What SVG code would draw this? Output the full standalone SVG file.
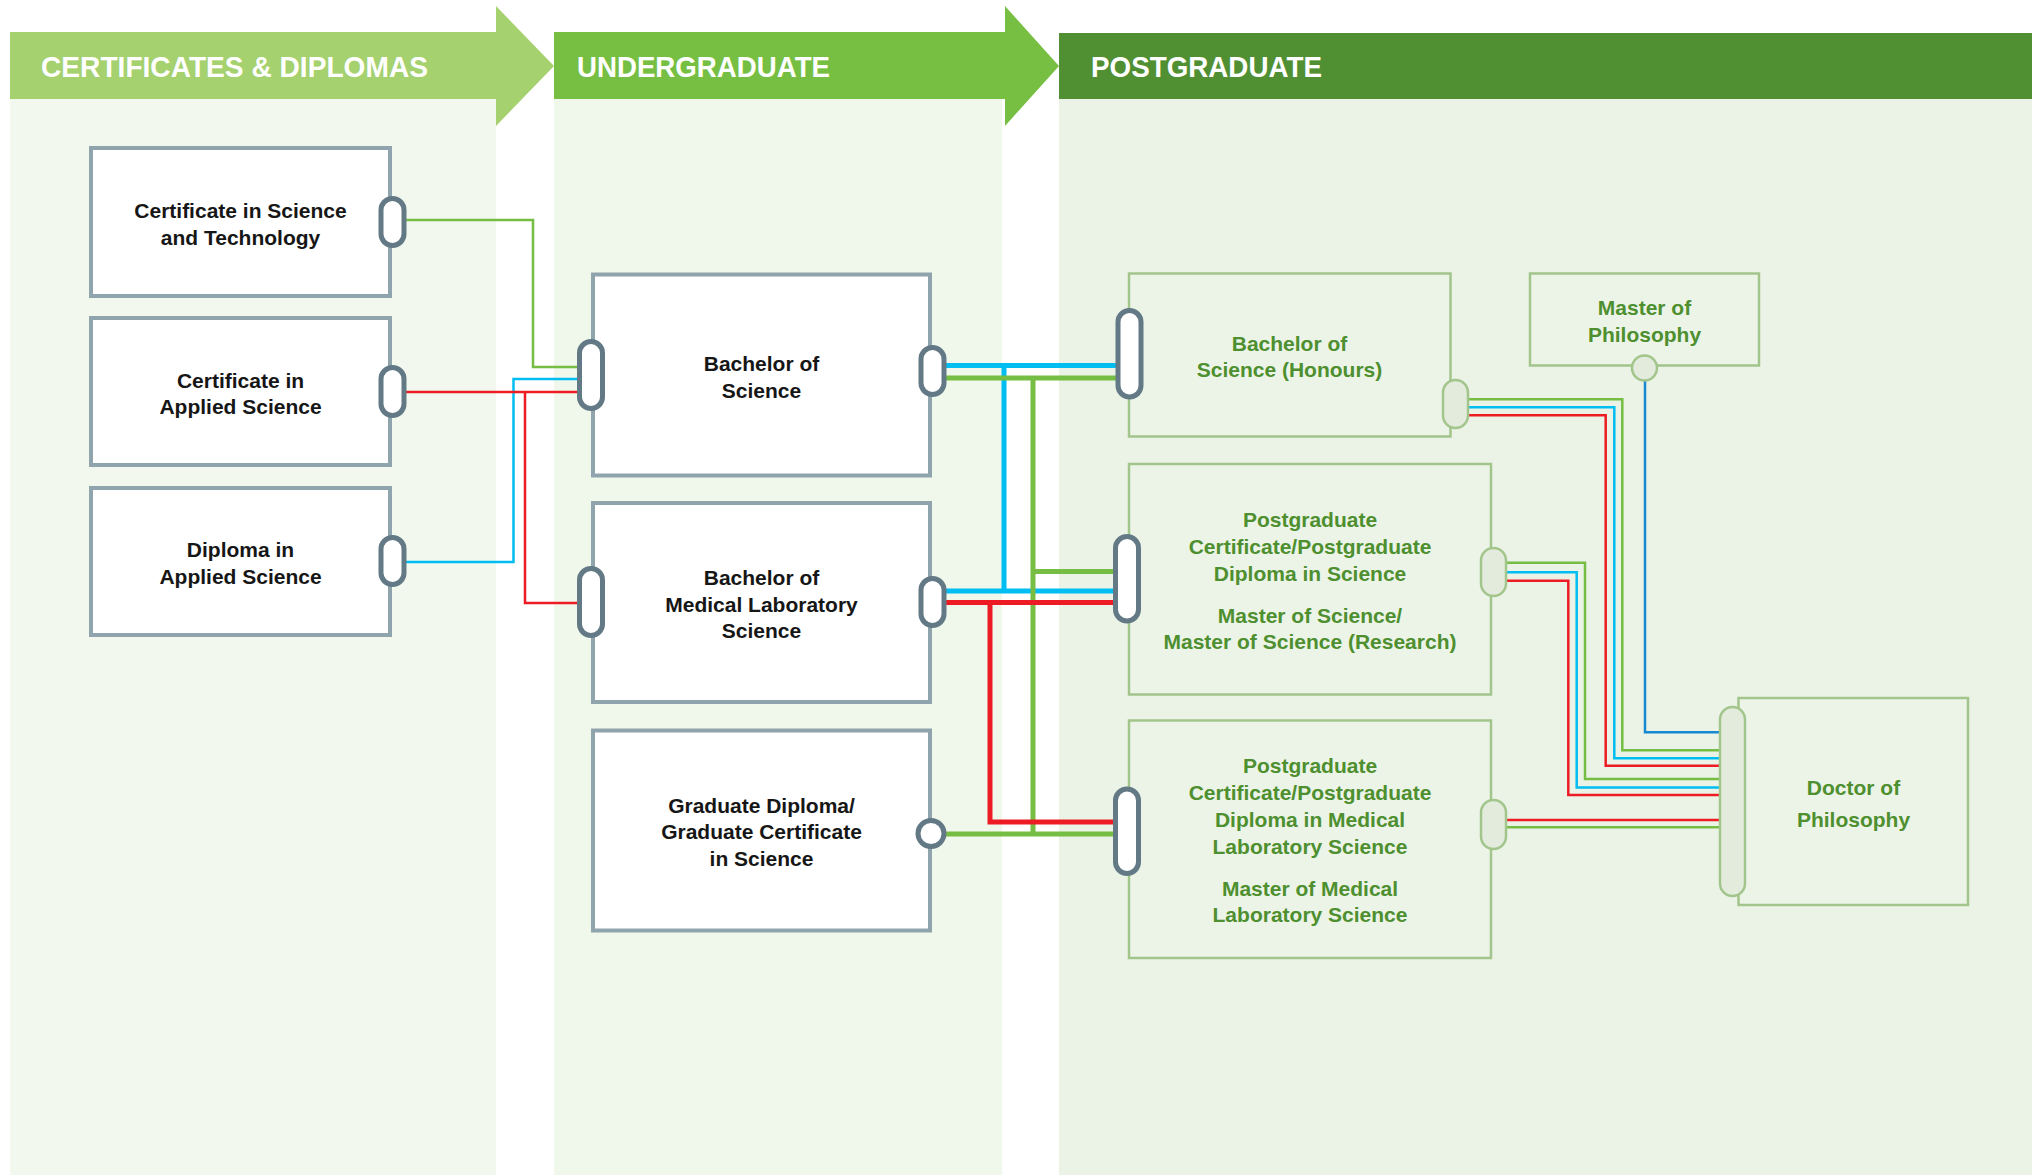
<svg xmlns="http://www.w3.org/2000/svg" width="2037" height="1175" viewBox="0 0 2037 1175">
<style>
.hdr{font-family:"Liberation Sans",Arial,sans-serif;font-weight:bold;font-size:30px;fill:#ffffff}
.t{font-family:"Liberation Sans",Arial,sans-serif;font-weight:bold;font-size:21px;fill:#161616;text-anchor:middle}
.g{font-family:"Liberation Sans",Arial,sans-serif;font-weight:bold;font-size:21px;fill:#4e8f2f;text-anchor:middle}
.box{fill:#ffffff;stroke:#8fa4ad;stroke-width:4}
.pbox{fill:#ecf4e8;stroke:#a2c58c;stroke-width:2.5}
.pill{fill:#ffffff;stroke:#637a86;stroke-width:5}
.lpill{fill:#e3ebdc;stroke:#a2c58c;stroke-width:2.5}
.ln{fill:none;stroke-width:2.5}
.tk{fill:none;stroke-width:5}
.gr{stroke:#76bd43}
.bl{stroke:#00bdf2}
.rd{stroke:#ed1c24}
.db{stroke:#1689d0}
</style>
<rect width="2037" height="1175" fill="#ffffff"/>
<g id="columns">
<rect x="10" y="99" width="486" height="1076" fill="#f2f8ee"/>
<rect x="554" y="99" width="448" height="1076" fill="#f0f7eb"/>
<rect x="1059" y="99" width="973" height="1076" fill="#ebf3e6"/>
<polygon points="10,32 496,32 496,6 554,66 496,126 496,99 10,99" fill="#a5d16f"/>
<polygon points="554,32 1005,32 1005,6 1059,66 1005,126 1005,99 554,99" fill="#76bf43"/>
<rect x="1059" y="33" width="973" height="66" fill="#518f33"/>
<text class="hdr" x="41" y="77" textLength="387" lengthAdjust="spacingAndGlyphs">CERTIFICATES &amp; DIPLOMAS</text>
<text class="hdr" x="577" y="77" textLength="253" lengthAdjust="spacingAndGlyphs">UNDERGRADUATE</text>
<text class="hdr" x="1091" y="77" textLength="231" lengthAdjust="spacingAndGlyphs">POSTGRADUATE</text>
</g>
<g id="connectors">
<path class="ln gr" d="M406 220 H533 V367 H580"/>
<path class="ln bl" d="M406 562 H513.5 V379 H580"/>
<path class="ln rd" d="M406 392 H580 M525 392 V603 H580"/>
<path class="tk bl" d="M946 365.5 H1117 M1004 365.5 V591 M946 591 H1115"/>
<path class="tk gr" d="M946 378 H1117 M1033 378 V834 M1033 571.5 H1115 M946 834 H1115"/>
<path class="tk rd" d="M946 602.5 H1115 M990 602.5 V822 H1115"/>
<path class="ln gr" d="M1468 399.3 H1622.3 V750.3 H1721"/>
<path class="ln bl" d="M1468 407.3 H1614.3 V758.3 H1721"/>
<path class="ln rd" d="M1468 415.3 H1605.7 V765.7 H1721"/>
<path class="ln gr" d="M1506 562.7 H1585 V779 H1721"/>
<path class="ln bl" d="M1506 572.3 H1576.7 V787.5 H1721"/>
<path class="ln rd" d="M1506 580.7 H1568.3 V795 H1721"/>
<path class="ln rd" d="M1506 820 H1721"/>
<path class="ln gr" d="M1506 827.3 H1721"/>
<path class="ln db" d="M1645 381 V732.3 H1721"/>
</g>
<g id="cert-sci-tech">
<rect class="box" x="91" y="148" width="299" height="148"/>
<text class="t" x="240.5" y="218.3">Certificate in Science</text>
<text class="t" x="240.5" y="245">and Technology</text>
<rect class="pill" x="381" y="198.5" width="23" height="47" rx="11.5"/>
</g>
<g id="cert-applied-sci">
<rect class="box" x="91" y="318" width="299" height="147"/>
<text class="t" x="240.5" y="388">Certificate in</text>
<text class="t" x="240.5" y="414">Applied Science</text>
<rect class="pill" x="381" y="367.5" width="23" height="48" rx="11.5"/>
</g>
<g id="dip-applied-sci">
<rect class="box" x="91" y="488" width="299" height="147"/>
<text class="t" x="240.5" y="557">Diploma in</text>
<text class="t" x="240.5" y="584">Applied Science</text>
<rect class="pill" x="381" y="537.5" width="23" height="47" rx="11.5"/>
</g>
<g id="bsc">
<rect class="box" x="593" y="274.5" width="337" height="201"/>
<text class="t" x="761.5" y="371">Bachelor of</text>
<text class="t" x="761.5" y="398">Science</text>
<rect class="pill" x="579.5" y="341.5" width="23" height="67" rx="11.5"/>
<rect class="pill" x="921" y="347.5" width="23" height="47" rx="11.5"/>
</g>
<g id="bmls">
<rect class="box" x="593" y="503" width="337" height="199"/>
<text class="t" x="761.5" y="585">Bachelor of</text>
<text class="t" x="761.5" y="612">Medical Laboratory</text>
<text class="t" x="761.5" y="638">Science</text>
<rect class="pill" x="579.5" y="568.5" width="23" height="67" rx="11.5"/>
<rect class="pill" x="921" y="578.5" width="23" height="47" rx="11.5"/>
</g>
<g id="graddip">
<rect class="box" x="593" y="730.5" width="337" height="200"/>
<text class="t" x="761.5" y="813">Graduate Diploma/</text>
<text class="t" x="761.5" y="839">Graduate Certificate</text>
<text class="t" x="761.5" y="866">in Science</text>
<circle class="pill" cx="931" cy="833.5" r="13"/>
</g>
<g id="bsc-hons">
<rect class="pbox" x="1129" y="273.5" width="321.5" height="163"/>
<text class="g" x="1289.5" y="350.7">Bachelor of</text>
<text class="g" x="1289.5" y="377.3">Science (Honours)</text>
<rect class="pill" x="1118" y="310.5" width="23" height="86.5" rx="11.5"/>
<rect class="lpill" x="1443" y="380" width="25" height="48" rx="12.5"/>
</g>
<g id="mphil">
<rect class="pbox" x="1530" y="273.5" width="229" height="92"/>
<text class="g" x="1644.5" y="315">Master of</text>
<text class="g" x="1644.5" y="341.7">Philosophy</text>
<circle class="lpill" cx="1644.5" cy="368" r="12.5"/>
</g>
<g id="pg-science">
<rect class="pbox" x="1129" y="464" width="362" height="230.5"/>
<text class="g" x="1310" y="526.7">Postgraduate</text>
<text class="g" x="1310" y="554">Certificate/Postgraduate</text>
<text class="g" x="1310" y="580.7">Diploma in Science</text>
<text class="g" x="1310" y="622.7">Master of Science/</text>
<text class="g" x="1310" y="649">Master of Science (Research)</text>
<rect class="pill" x="1115.5" y="536.5" width="23" height="84.5" rx="11.5"/>
<rect class="lpill" x="1481" y="548" width="25" height="48" rx="12.5"/>
</g>
<g id="pg-mls">
<rect class="pbox" x="1129" y="720.5" width="362" height="237.5"/>
<text class="g" x="1310" y="773.3">Postgraduate</text>
<text class="g" x="1310" y="800">Certificate/Postgraduate</text>
<text class="g" x="1310" y="827.3">Diploma in Medical</text>
<text class="g" x="1310" y="854">Laboratory Science</text>
<text class="g" x="1310" y="896">Master of Medical</text>
<text class="g" x="1310" y="921.7">Laboratory Science</text>
<rect class="pill" x="1115.5" y="789" width="23" height="84.5" rx="11.5"/>
<rect class="lpill" x="1481" y="800" width="25" height="49" rx="12.5"/>
</g>
<g id="phd">
<rect class="pbox" x="1738.5" y="698" width="229.5" height="207"/>
<text class="g" x="1853.5" y="795">Doctor of</text>
<text class="g" x="1853.5" y="826.7">Philosophy</text>
<rect class="lpill" x="1720" y="707" width="25" height="189" rx="12.5"/>
</g>
</svg>
